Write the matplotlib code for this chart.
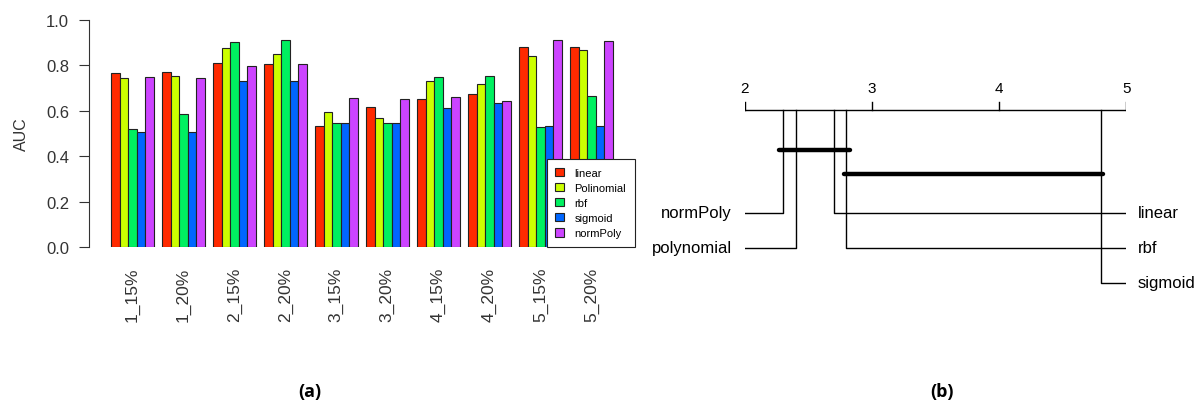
import matplotlib
matplotlib.use('Agg')
import matplotlib.pyplot as plt
from matplotlib.patches import Patch
import numpy as np

plt.rcParams['font.family'] = ['Liberation Sans', 'DejaVu Sans']

W, H = 1200, 406

# --- panel (a): AUC per dataset / kernel ---
datasets = ['1_15%', '1_20%', '2_15%', '2_20%', '3_15%', '3_20%', '4_15%', '4_20%', '5_15%', '5_20%']
kernels = ['linear', 'Polinomial', 'rbf', 'sigmoid', 'normPoly']
colors = ['#FF2A00', '#CCFF00', '#00F060', '#0066FF', '#CC44FF']
auc_linear = [0.767, 0.772, 0.811, 0.806, 0.533, 0.615, 0.651, 0.674, 0.880, 0.880]
auc_poly = [0.743, 0.752, 0.875, 0.850, 0.596, 0.567, 0.733, 0.718, 0.840, 0.869]
auc_rbf = [0.518, 0.586, 0.905, 0.913, 0.546, 0.546, 0.747, 0.752, 0.527, 0.665]
auc_sigmoid = [0.508, 0.508, 0.733, 0.733, 0.546, 0.546, 0.611, 0.634, 0.533, 0.533]
auc_normpoly = [0.747, 0.743, 0.796, 0.806, 0.655, 0.651, 0.659, 0.644, 0.913, 0.909]

# --- panel (b): mean ranks (critical difference plot) ---
cd_methods = ['normPoly', 'polynomial', 'linear', 'rbf', 'sigmoid']
cd_ranks = [2.3, 2.4, 2.7, 2.8, 4.8]
cd_cliques = [(2.27, 2.83), (2.78, 4.82)]


def px_axes(fig, x0, y0, x1, y1):
    return fig.add_axes([x0 / W, 1 - y1 / H, (x1 - x0) / W, (y1 - y0) / H])


fig = plt.figure(figsize=(W / 100, H / 100), dpi=100)

# bar chart: unit = 8.5 px, x=0 at pixel 102.5
unit = 8.5
ax = px_axes(fig, 102.5, 21, 102.5 + 61 * unit, 248)
series = [auc_linear, auc_poly, auc_rbf, auc_sigmoid, auc_normpoly]
n = len(kernels)
group_start = 1 + np.arange(len(datasets)) * (n + 1)
for k, (vals, col) in enumerate(zip(series, colors)):
    ax.bar(group_start + k + 0.5, vals, width=1, color=col, edgecolor='#222222', linewidth=0.8)
ax.set_xlim(0, 61)
ax.set_ylim(0, 1)
for s in ['top', 'right', 'bottom']:
    ax.spines[s].set_visible(False)
ax.spines['left'].set_position(('outward', 10))
ax.spines['left'].set_color('#333333')
ax.set_yticks([0, 0.2, 0.4, 0.6, 0.8, 1.0])
ax.set_yticklabels(['0.0', '0.2', '0.4', '0.6', '0.8', '1.0'])
ax.tick_params(axis='y', length=7, width=0.8, colors='#333333', labelsize=12, pad=7)
ax.set_xticks(group_start + n / 2)
ax.set_xticklabels(datasets, rotation=90, fontsize=12.5, color='#333333')
ax.tick_params(axis='x', length=0, pad=14)
ax.set_ylabel('AUC', fontsize=11.5, color='#333333', labelpad=12)
handles = [Patch(facecolor=c, edgecolor='#222222', linewidth=0.8) for c in colors]
leg_x = (546.5 - 102.5) / (61 * unit)
leg = ax.legend(handles, kernels, loc='lower left', bbox_to_anchor=(leg_x, 0.0),
                fontsize=8, frameon=True, fancybox=False, framealpha=1,
                handlelength=0.8, handleheight=0.8, handletextpad=0.9,
                labelspacing=0.45, borderpad=0.8, borderaxespad=0)
leg.get_frame().set_edgecolor('#222222')
leg.get_frame().set_linewidth(0.8)

# critical difference diagram: x in rank units, y in pixel rows
bx = px_axes(fig, 744.6, 60, 1126.4, 320)
bx.set_xlim(2, 5)
bx.set_ylim(320, 60)
bx.axis('off')
axis_y = 111
bx.plot([2, 5], [axis_y, axis_y], color='black', lw=1)
for t in range(2, 6):
    bx.plot([t, t], [axis_y, axis_y - 8], color='black', lw=1)
    bx.text(t, axis_y - 22, str(t), ha='center', va='center', fontsize=11)
half = 2
row_y = [214 + i * 35 for i in range(3)]
for i, (name, r) in enumerate(zip(cd_methods, cd_ranks)):
    if i < half:
        y = row_y[i]
        bx.plot([r, r, 2], [axis_y, y, y], color='black', lw=1)
        bx.text(1.9, y, name, ha='right', va='center', fontsize=12, clip_on=False)
    else:
        y = row_y[i - half]
        bx.plot([r, r, 5], [axis_y, y, y], color='black', lw=1)
        bx.text(5.09, y, name, ha='left', va='center', fontsize=12, clip_on=False)
for j, (lo, hi) in enumerate(cd_cliques):
    y = 151 + j * 24
    bx.plot([lo, hi], [y, y], color='black', lw=3.2, solid_capstyle='round')

fig.text(310 / W, 1 - 392 / H, '(a)', ha='center', va='center', fontsize=13,
         fontweight='bold', family='Open Sans')
fig.text(942 / W, 1 - 392 / H, '(b)', ha='center', va='center', fontsize=13,
         fontweight='bold', family='Open Sans')

fig.savefig('out.png', dpi=100)
